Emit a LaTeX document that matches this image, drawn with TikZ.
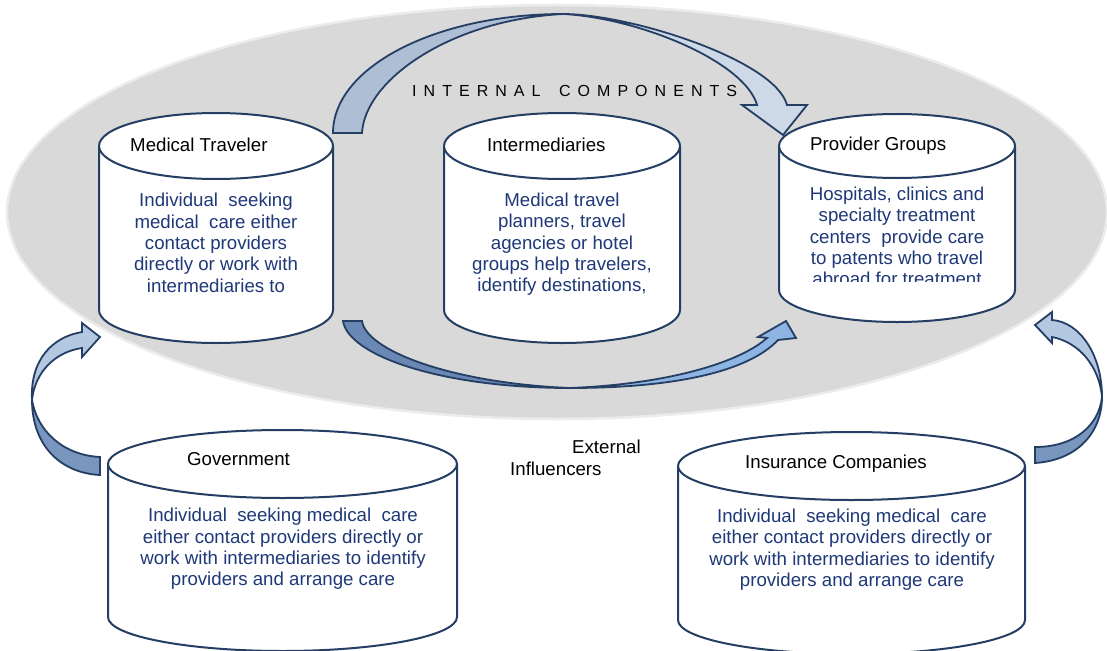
\documentclass[tikz,border=0pt]{standalone}
\usepackage{fontspec}
\setmainfont{Liberation Sans}
\usepackage{tikz}

\definecolor{navy}{RGB}{36,62,100}
\definecolor{bodyblue}{RGB}{31,56,120}
\definecolor{bggray}{RGB}{217,217,217}
\definecolor{rimgray}{RGB}{236,236,236}
\definecolor{topdark}{RGB}{174,190,212}
\definecolor{toplight}{RGB}{205,217,231}
\definecolor{botdark}{RGB}{105,136,180}
\definecolor{botlight}{RGB}{141,180,226}
\definecolor{sidelight}{RGB}{180,200,226}
\definecolor{sidedark}{RGB}{121,150,190}

\begin{document}
\begin{tikzpicture}[x=1pt, y=-1pt, line join=round,
  cyl/.style={draw=navy, line width=2pt, fill=white},
  blockarrow/.style={draw=navy, line width=1.8pt, line join=miter},
  title/.style={font=\fontsize{18.67}{21.4}\selectfont, text=black, inner sep=0pt, anchor=base west},
  body/.style={font=\fontsize{18.67}{21.4}\selectfont, text=bodyblue, align=center, inner sep=0pt, anchor=north}]
  \useasboundingbox (0,0) rectangle (1107,650);

  % internal components area
  \fill[bggray] (557,212) ellipse[x radius=550, y radius=207];
  \draw[rimgray, line width=2.5pt] (557,212) ellipse[x radius=550, y radius=207];
  \node[font=\fontsize{16}{19}\selectfont\addfontfeature{LetterSpace=44}, inner sep=0pt, anchor=base west] (internal) at (412,97) {INTERNAL\hspace{7pt} COMPONENTS};

  % cylinders
  \filldraw[cyl] (99,146) -- (99,310) arc[start angle=180, end angle=0, x radius=117, y radius=33] -- (333,146);
  \filldraw[cyl] (216,146) ellipse[x radius=117, y radius=33];
  \filldraw[cyl] (444,146) -- (444,310) arc[start angle=180, end angle=0, x radius=118, y radius=33] -- (680,146);
  \filldraw[cyl] (562,146) ellipse[x radius=118, y radius=33];
  \filldraw[cyl] (779,146) -- (779,290) arc[start angle=180, end angle=0, x radius=118, y radius=32] -- (1015,146);
  \filldraw[cyl] (897,146) ellipse[x radius=118, y radius=32];
  \filldraw[cyl] (108,464) -- (108,617) arc[start angle=180, end angle=0, x radius=174.5, y radius=34] -- (457,464);
  \filldraw[cyl] (282.5,464) ellipse[x radius=174.5, y radius=34];
  \filldraw[cyl] (678,466) -- (678,620) arc[start angle=180, end angle=0, x radius=173.5, y radius=34] -- (1025,466);
  \filldraw[cyl] (851.5,466) ellipse[x radius=173.5, y radius=34];

  % titles
  \node[title] (traveler) at (130,151) {Medical Traveler};
  \node[title] (interm) at (487,151) {Intermediaries};
  \node[title] (provider) at (810,150) {Provider Groups};
  \node[title] (govt) at (187,465) {Government};
  \node[title] (insur) at (745,468) {Insurance Companies};

  % texts
  \node[body] (travelertext) at (216,193) {Individual\ \ seeking\\medical\ \ care either\\contact providers\\directly or work with\\intermediaries to};
  \node[body] (intermtext) at (562,192.5) {Medical travel\\planners, travel\\agencies or hotel\\groups help travelers,\\identify destinations,};
  \begin{scope}
    \clip (781,170) rectangle (1013,281);
    \node[body] (providertext) at (897,186.5) {Hospitals, clinics and\\specialty treatment\\centers\ \ provide care\\to patents who travel\\abroad for treatment};
  \end{scope}
  \node[body] (govttext) at (283,508) {Individual\ \ seeking medical\ \ care\\either contact providers directly or\\work with intermediaries to identify\\providers and arrange care};
  \node[body] (insurtext) at (852,508.5) {Individual\ \ seeking medical\ \ care\\either contact providers directly or\\work with intermediaries to identify\\providers and arrange care};

  \node[title] (external) at (572,453) {External};
  \node[title] (influencers) at (510,475) {Influencers};

  % top arrow
  \filldraw[blockarrow, fill=topdark] (333,133) .. controls (333,67) and (436,14) .. (563,14) .. controls (450,20) and (365,80) .. (362,133) -- cycle;
  \filldraw[blockarrow, fill=toplight] (563,14) .. controls (630,14) and (775,60) .. (787,105) -- (807,105) -- (783,135) -- (742,105) -- (757,105) .. controls (745,62) and (640,18) .. (563,14) -- cycle;

  % bottom arrow
  \filldraw[blockarrow, fill=botdark] (343,321) -- (362,321) .. controls (366,350) and (450,383) .. (570,388) .. controls (440,388) and (348,355) .. (343,321) -- cycle;
  \filldraw[blockarrow, fill=botlight] (570,388) .. controls (680,388) and (750,370) .. (778,340) -- (796,338) -- (786,321) -- (758,337) -- (767,338) .. controls (740,362) and (670,384) .. (570,388) -- cycle;

  % left arrow
  \filldraw[blockarrow, fill=sidedark] (100,457) -- (100,475) .. controls (60,473) and (32,445) .. (32,400) .. controls (37,430) and (62,455) .. (100,457) -- cycle;
  \filldraw[blockarrow, fill=sidelight] (32,400) .. controls (30,360) and (52,337) .. (82,332) -- (82,323) -- (100,337) -- (82,357) -- (82,348) .. controls (55,352) and (35,372) .. (32,400) -- cycle;

  % right arrow
  \filldraw[blockarrow, fill=sidedark] (1035,447) -- (1035,463) .. controls (1080,460) and (1102,430) .. (1102,397) .. controls (1099,425) and (1075,447) .. (1035,447) -- cycle;
  \filldraw[blockarrow, fill=sidelight] (1102,397) .. controls (1102,355) and (1080,322) .. (1052,320) -- (1052,312) -- (1035,325) -- (1052,343) -- (1052,337) .. controls (1078,342) and (1099,365) .. (1102,397) -- cycle;
\end{tikzpicture}
\end{document}
